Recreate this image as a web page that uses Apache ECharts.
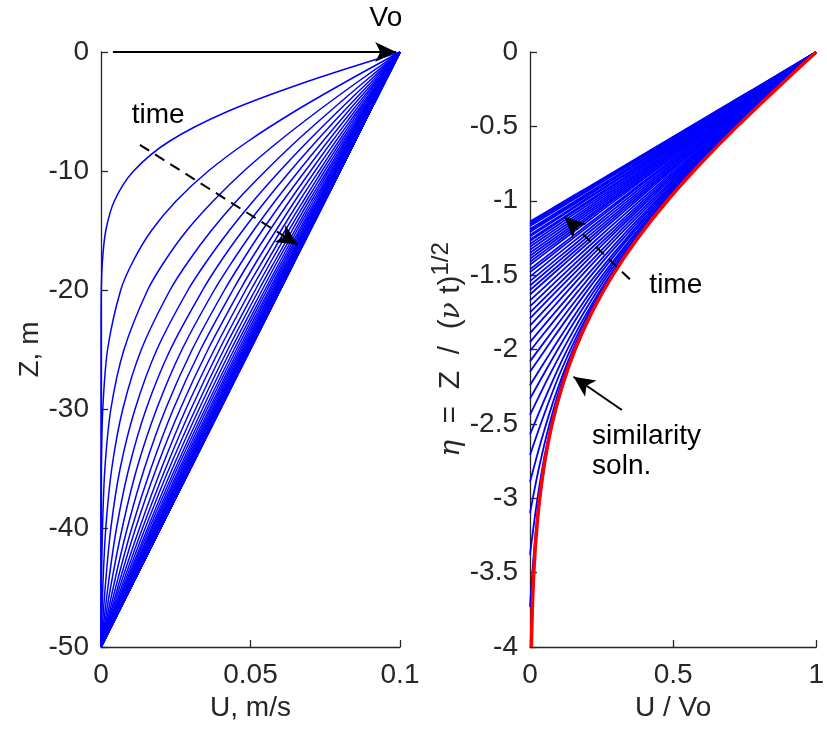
<!DOCTYPE html>
<html>
<head>
<meta charset="utf-8">
<script src="https://cdn.jsdelivr.net/npm/echarts@6/dist/echarts.min.js"></script>
<style>
html, body { margin: 0; padding: 0; background: #fff; }
#chart { width: 827px; height: 730px; }
</style>
</head>
<body>
<div id="chart"></div>
<script>
// depth levels (m) at which every profile is read
var depths = [0, -2.5, -5, -7.5, -10, -12.5, -15, -17.5, -20, -25, -30, -35, -40, -45, -50];

// U (m/s) of each profile at those depths, earliest time first
var profiles = [
  [0.1, .0688, .0423, .0229, .0109, .0045, .0016, .0005, .0001, 0, 0, 0, 0, 0, 0],
  [0.1, .0819, .0647, .0492, .0359, .0252, .0169, .0109, .0066, .0022, .0006, .0001, 0, 0, 0],
  [0.1, .0859, .0723, .0595, .0478, .0376, .0287, .0215, .0156, .0077, .0033, .0013, .0005, .0001, 0],
  [0.1, .0881, .0765, .0653, .0550, .0454, .0369, .0295, .0231, .0135, .0073, .0036, .0016, .0006, 0],
  [0.1, .0895, .0792, .0692, .0598, .0510, .0429, .0356, .0291, .0187, .0114, .0064, .0033, .0014, 0],
  [0.1, .0905, .0811, .0720, .0633, .0551, .0474, .0403, .0340, .0232, .0151, .0093, .0052, .0023, 0],
  [0.1, .0913, .0826, .0742, .0661, .0583, .0510, .0442, .0379, .0271, .0186, .0120, .0071, .0032, 0],
  [0.1, .0919, .0838, .0759, .0683, .0609, .0539, .0474, .0413, .0305, .0216, .0145, .0088, .0041, 0],
  [0.1, .0923, .0848, .0773, .0701, .0631, .0564, .0500, .0441, .0333, .0242, .0167, .0103, .0049, 0],
  [0.1, .0928, .0856, .0785, .0716, .0649, .0585, .0523, .0465, .0358, .0265, .0185, .0116, .0056, 0],
  [0.1, .0931, .0862, .0795, .0729, .0664, .0602, .0542, .0484, .0379, .0284, .0202, .0129, .0062, 0],
  [0.1, .0934, .0868, .0803, .0739, .0677, .0616, .0558, .0501, .0396, .0301, .0216, .0139, .0068, 0],
  [0.1, .0936, .0873, .0810, .0748, .0687, .0628, .0571, .0516, .0411, .0316, .0228, .0148, .0073, 0],
  [0.1, .0938, .0877, .0816, .0756, .0696, .0639, .0583, .0528, .0424, .0328, .0239, .0156, .0077, 0],
  [0.1, .0940, .0880, .0821, .0762, .0704, .0648, .0592, .0539, .0435, .0339, .0248, .0162, .0080, 0],
  [0.1, .0941, .0883, .0825, .0768, .0711, .0655, .0601, .0548, .0445, .0348, .0255, .0168, .0083, 0],
  [0.1, .0943, .0885, .0829, .0772, .0717, .0662, .0608, .0555, .0453, .0355, .0262, .0172, .0085, 0],
  [0.1, .0944, .0888, .0832, .0776, .0722, .0667, .0614, .0562, .0460, .0362, .0267, .0176, .0088, 0],
  [0.1, .0945, .0889, .0834, .0780, .0726, .0672, .0619, .0567, .0466, .0367, .0272, .0180, .0089, 0],
  [0.1, .0945, .0891, .0837, .0783, .0729, .0676, .0624, .0572, .0471, .0372, .0276, .0183, .0091, 0],
  [0.1, .0946, .0892, .0839, .0785, .0732, .0680, .0628, .0576, .0475, .0376, .0280, .0185, .0092, 0],
  [0.1, .0947, .0893, .0840, .0787, .0735, .0683, .0631, .0580, .0479, .0380, .0283, .0187, .0093, 0],
  [0.1, .0947, .0894, .0842, .0789, .0737, .0685, .0634, .0583, .0482, .0383, .0285, .0189, .0094, 0],
  [0.1, .0948, .0895, .0843, .0791, .0739, .0687, .0636, .0585, .0484, .0385, .0287, .0191, .0095, 0],
  [0.1, .0948, .0896, .0844, .0792, .0741, .0689, .0638, .0587, .0487, .0387, .0289, .0192, .0096, 0],
  [0.1, .0948, .0896, .0845, .0793, .0742, .0691, .0640, .0589, .0489, .0389, .0291, .0193, .0096, 0],
  [0.1, .0948, .0897, .0846, .0794, .0743, .0692, .0641, .0591, .0490, .0391, .0292, .0194, .0097, 0],
  [0.1, .0949, .0897, .0846, .0795, .0744, .0693, .0643, .0592, .0492, .0392, .0293, .0195, .0097, 0],
  [0.1, .0949, .0898, .0847, .0796, .0745, .0694, .0644, .0593, .0493, .0393, .0294, .0196, .0098, 0],
  [0.1, .0949, .0898, .0847, .0796, .0746, .0695, .0645, .0594, .0494, .0394, .0295, .0196, .0098, 0],
  [0.1, .0949, .0898, .0848, .0797, .0746, .0696, .0645, .0595, .0495, .0395, .0296, .0197, .0098, 0],
  [0.1, .0949, .0899, .0848, .0797, .0747, .0696, .0646, .0596, .0496, .0396, .0296, .0197, .0099, 0],
  [0.1, .0949, .0899, .0848, .0798, .0747, .0697, .0647, .0596, .0496, .0396, .0297, .0198, .0099, 0],
  [0.1, .0950, .0899, .0849, .0798, .0748, .0697, .0647, .0597, .0497, .0397, .0297, .0198, .0099, 0],
  [0.1, .0950, .0899, .0849, .0798, .0748, .0698, .0648, .0597, .0497, .0397, .0298, .0198, .0099, 0],
  [0.1, .0950, .0899, .0849, .0799, .0748, .0698, .0648, .0598, .0498, .0398, .0298, .0199, .0099, 0],
  [0.1, .0950, .0899, .0849, .0799, .0749, .0698, .0648, .0598, .0498, .0398, .0298, .0199, .0099, 0],
  [0.1, .0950, .0899, .0849, .0799, .0749, .0699, .0648, .0598, .0498, .0398, .0299, .0199, .0099, 0],
  [0.1, .0950, .0900, .0849, .0799, .0749, .0699, .0649, .0599, .0499, .0399, .0299, .0199, .0100, 0],
  [0.1, .0950, .0900, .0849, .0799, .0749, .0699, .0649, .0599, .0499, .0399, .0299, .0199, .0100, 0],
  [0.1, .0950, .0900, .0850, .0799, .0749, .0699, .0649, .0599, .0499, .0399, .0299, .0199, .0100, 0],
  [0.1, .0950, .0900, .0850, .0799, .0749, .0699, .0649, .0599, .0499, .0399, .0299, .0199, .0100, 0],
  [0.1, .0950, .0900, .0850, .0800, .0749, .0699, .0649, .0599, .0499, .0399, .0299, .0200, .0100, 0],
  [0.1, .0950, .0900, .0850, .0800, .0750, .0699, .0649, .0599, .0499, .0399, .0299, .0200, .0100, 0],
  [0.1, .0950, .0900, .0850, .0800, .0750, .0699, .0649, .0599, .0499, .0399, .0300, .0200, .0100, 0],
  [0.1, .0950, .0900, .0850, .0800, .0750, .0700, .0649, .0599, .0499, .0399, .0300, .0200, .0100, 0],
  [0.1, .0950, .0900, .0850, .0800, .0750, .0700, .0650, .0599, .0499, .0400, .0300, .0200, .0100, 0],
  [0.1, .0950, .0900, .0850, .0800, .0750, .0700, .0650, .0600, .0499, .0400, .0300, .0200, .0100, 0],
  [0.1, .0950, .0900, .0850, .0800, .0750, .0700, .0650, .0600, .0500, .0400, .0300, .0200, .0100, 0]
];

// eta reached by each profile at the bottom (Z = -50), right panel
var etaBottom = [-11.35, -6.49, -5.02, -4.24, -3.73, -3.38, -3.10, -2.89, -2.71, -2.57,
  -2.44, -2.33, -2.24, -2.15, -2.08, -2.01, -1.95, -1.89, -1.84, -1.79,
  -1.75, -1.71, -1.67, -1.63, -1.60, -1.57, -1.54, -1.51, -1.48, -1.46,
  -1.43, -1.41, -1.39, -1.37, -1.35, -1.33, -1.31, -1.29, -1.27, -1.26,
  -1.24, -1.23, -1.21, -1.20, -1.19, -1.17, -1.16, -1.15, -1.14];

// similarity solution (red)
var etaSim = [0, -0.25, -0.5, -0.75, -1, -1.25, -1.5, -1.75, -2, -2.25, -2.5, -2.75, -3, -3.25, -3.5, -3.75, -4];
var uSim = [1, .8597, .7237, .5961, .4795, .3768, .2888, .2161, .1573, .1116, .0771, .0519, .0339, .0216, .0133, .0080, .0047];

var Vo = 0.1, depth = 50;
var FONT = 'Liberation Sans';
var AX = '#262626';

var chart = echarts.init(document.getElementById('chart'));

function axisStyle(extra) {
  var a = {
    type: 'value',
    axisLine: { show: true, onZero: false, lineStyle: { color: AX, width: 1.3 } },
    axisTick: { show: true, inside: true, length: 7, lineStyle: { color: AX, width: 1.3 } },
    splitLine: { show: false },
    axisLabel: { color: AX, fontSize: 28, fontFamily: FONT },
    nameTextStyle: { color: AX, fontSize: 28, fontFamily: FONT }
  };
  for (var k in extra) a[k] = extra[k];
  return a;
}

var series = [];
profiles.forEach(function (u, n) {
  series.push({
    type: 'line', xAxisIndex: 0, yAxisIndex: 0, showSymbol: false, smooth: 0.3,
    lineStyle: { color: '#0000ff', width: 1.5 }, silent: true,
    data: depths.map(function (z, i) { return [u[i], z]; })
  });
});
profiles.forEach(function (u, n) {
  series.push({
    type: 'line', xAxisIndex: 1, yAxisIndex: 1, showSymbol: false, smooth: 0.3,
    lineStyle: { color: '#0000ff', width: 1.8 }, silent: true,
    data: depths.map(function (z, i) { return [u[i] / Vo, z / -depth * etaBottom[n]]; })
  });
});
series.push({
  type: 'line', xAxisIndex: 1, yAxisIndex: 1, showSymbol: false, smooth: 0.3,
  lineStyle: { color: '#ff0000', width: 3.5 }, silent: true,
  data: etaSim.map(function (e, i) { return [uSim[i], e]; })
});

// arrows
var solidArrow = { color: '#000', width: 2, type: 'solid' };
var dashedArrow = { color: '#000', width: 2, type: [11, 7] };
series.push({
  type: 'line', xAxisIndex: 0, yAxisIndex: 0, data: [],
  markLine: {
    silent: true, animation: false, symbol: ['none', 'arrow'], symbolSize: [15, 21],
    label: { show: false },
    data: [
      [{ coord: [0.004, 0], lineStyle: solidArrow }, { coord: [0.0987, 0] }],
      [{ coord: [0.013, -7.8], lineStyle: dashedArrow }, { coord: [0.0658, -16.2] }]
    ]
  }
});
series.push({
  type: 'line', xAxisIndex: 1, yAxisIndex: 1, data: [],
  markLine: {
    silent: true, animation: false, symbol: ['none', 'arrow'], symbolSize: [15, 21],
    label: { show: false },
    data: [
      [{ coord: [0.349, -1.528], lineStyle: dashedArrow }, { coord: [0.1206, -1.107] }],
      [{ coord: [0.321, -2.407], lineStyle: solidArrow }, { coord: [0.152, -2.183] }]
    ]
  }
});

var option = {
  animation: false,
  backgroundColor: '#fff',
  grid: [
    { left: 101, top: 52, width: 299, height: 595 },
    { left: 530, top: 52, width: 296, height: 595 }
  ],
  xAxis: [
    axisStyle({ gridIndex: 0, min: 0, max: 0.1, interval: 0.05, name: 'U, m/s',
      nameLocation: 'middle', nameGap: 17,
      axisLabel: { color: AX, fontSize: 28, fontFamily: FONT, margin: 14 } }),
    axisStyle({ gridIndex: 1, min: 0, max: 1, interval: 0.5, name: 'U / Vo',
      nameLocation: 'middle', nameGap: 17,
      axisLabel: { color: AX, fontSize: 28, fontFamily: FONT, margin: 14 } })
  ],
  yAxis: [
    axisStyle({ gridIndex: 0, min: -50, max: 0, interval: 10, name: 'Z, m',
      nameLocation: 'middle', nameRotate: 90, nameGap: 56,
      axisLabel: { color: AX, fontSize: 28, fontFamily: FONT, margin: 12 } }),
    axisStyle({ gridIndex: 1, min: -4, max: 0, interval: 0.5,
      name: '{g|η}{m|  =  Z  /  (}{g|ν}{m| t)}{s|1/2}',
      nameLocation: 'middle', nameRotate: 90, nameGap: 27,
      axisLabel: { color: AX, fontSize: 28, fontFamily: FONT, margin: 12 },
      nameTextStyle: {
        color: AX, fontSize: 30, fontFamily: FONT,
        rich: {
          g: { fontFamily: 'DejaVu Serif', fontStyle: 'italic', fontSize: 28, color: AX, lineHeight: 36, verticalAlign: 'bottom' },
          m: { fontFamily: FONT, fontSize: 30, color: AX, lineHeight: 36, verticalAlign: 'bottom' },
          s: { fontFamily: FONT, fontSize: 24, color: AX, lineHeight: 21, verticalAlign: 'top' }
        }
      } })
  ],
  series: series
};
chart.setOption(option);

// text notes placed in data coordinates
var notes = [
  { grid: 0, at: [0.0103, -5.3], text: 'time', align: 'left' },
  { grid: 0, at: [0.0953, 2.85], text: 'Vo', align: 'center' },
  { grid: 1, at: [0.417, -1.566], text: 'time', align: 'left' },
  { grid: 1, at: [0.217, -2.586], text: 'similarity', align: 'left' },
  { grid: 1, at: [0.217, -2.788], text: 'soln.', align: 'left' }
];
chart.setOption({
  graphic: notes.map(function (t) {
    var p = chart.convertToPixel({ gridIndex: t.grid }, t.at);
    return {
      type: 'text', x: p[0], y: p[1], silent: true, z: 100,
      style: { text: t.text, fill: '#000', fontSize: 28, fontFamily: FONT, align: t.align, verticalAlign: 'middle' }
    };
  })
});
</script>
</body>
</html>
